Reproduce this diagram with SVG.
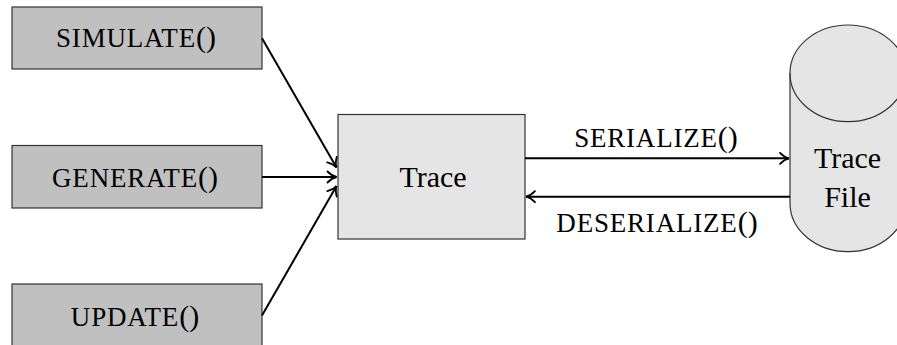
<svg xmlns="http://www.w3.org/2000/svg" width="897" height="345" viewBox="0 0 897 345">
  <style>
    .op { fill: #c0c0c0; stroke: #333; stroke-width: 1.2; }
    .store { fill: #e5e5e5; stroke: #333; stroke-width: 1.2; }
    .lbl { font-family: "Liberation Serif", "Times New Roman", serif; fill: #000; text-anchor: middle; }
    .sc { font-size: 27px; letter-spacing: 0.8px; }
    .par { font-size: 30px; letter-spacing: 0; }
    .big { font-size: 30px; }
    .edge { fill: none; stroke: #000; stroke-width: 2; }
  </style>
  <defs>
    <marker id="tip" markerUnits="userSpaceOnUse" markerWidth="16" markerHeight="16" viewBox="-12 -8 14 16" refX="0" refY="0" orient="auto">
      <path d="M -9,-5.5 C -6,-2.4 -2.8,-0.6 0,0 C -2.8,0.6 -6,2.4 -9,5.5" fill="none" stroke="#000" stroke-width="1.8" stroke-linecap="round"/>
    </marker>
  </defs>

  <!-- operations feeding the trace -->
  <g id="simulate">
    <rect class="op" x="12" y="7" width="250" height="62"/>
    <text class="lbl" x="136" y="47.3"><tspan class="sc">SIMULATE</tspan><tspan class="par">()</tspan></text>
  </g>
  <g id="generate">
    <rect class="op" x="12" y="145.5" width="250" height="62.5"/>
    <text class="lbl" x="135" y="186.5"><tspan class="sc">GENERATE</tspan><tspan class="par">()</tspan></text>
  </g>
  <g id="update">
    <rect class="op" x="12" y="284" width="250" height="63"/>
    <text class="lbl" x="135" y="326"><tspan class="sc">UPDATE</tspan><tspan class="par">()</tspan></text>
  </g>

  <!-- in-memory trace -->
  <g id="trace">
    <rect class="store" x="338" y="114.5" width="187" height="124.5"/>
    <text class="lbl big" x="433" y="186.7">Trace</text>
  </g>

  <!-- persisted trace file -->
  <g id="trace-file">
    <path class="store" d="M 790,73.3 L 790,203.3 A 58,48.3 0 0 0 906,203.3 L 906,73.3 A 58,48.3 0 0 0 790,73.3 Z"/>
    <path d="M 790,73.3 A 58,48.3 0 0 0 906,73.3" fill="none" stroke="#333" stroke-width="1.2"/>
    <text class="lbl big" x="847.5" y="168.3">Trace</text>
    <text class="lbl big" x="847.5" y="206.7">File</text>
  </g>

  <!-- connectors -->
  <g id="connectors">
    <line class="edge" x1="262" y1="38.3" x2="336.5" y2="167.5" marker-end="url(#tip)"/>
    <line class="edge" x1="262" y1="177" x2="336.5" y2="177" marker-end="url(#tip)"/>
    <line class="edge" x1="262" y1="315.5" x2="336.5" y2="186" marker-end="url(#tip)"/>
    <line class="edge" x1="525" y1="158.3" x2="789" y2="158.3" marker-end="url(#tip)"/>
    <line class="edge" x1="790" y1="196.7" x2="526" y2="196.7" marker-end="url(#tip)"/>
    <text class="lbl" x="656" y="146.7"><tspan class="sc">SERIALIZE</tspan><tspan class="par">()</tspan></text>
    <text class="lbl" x="657" y="231.5"><tspan class="sc">DESERIALIZE</tspan><tspan class="par">()</tspan></text>
  </g>
</svg>
